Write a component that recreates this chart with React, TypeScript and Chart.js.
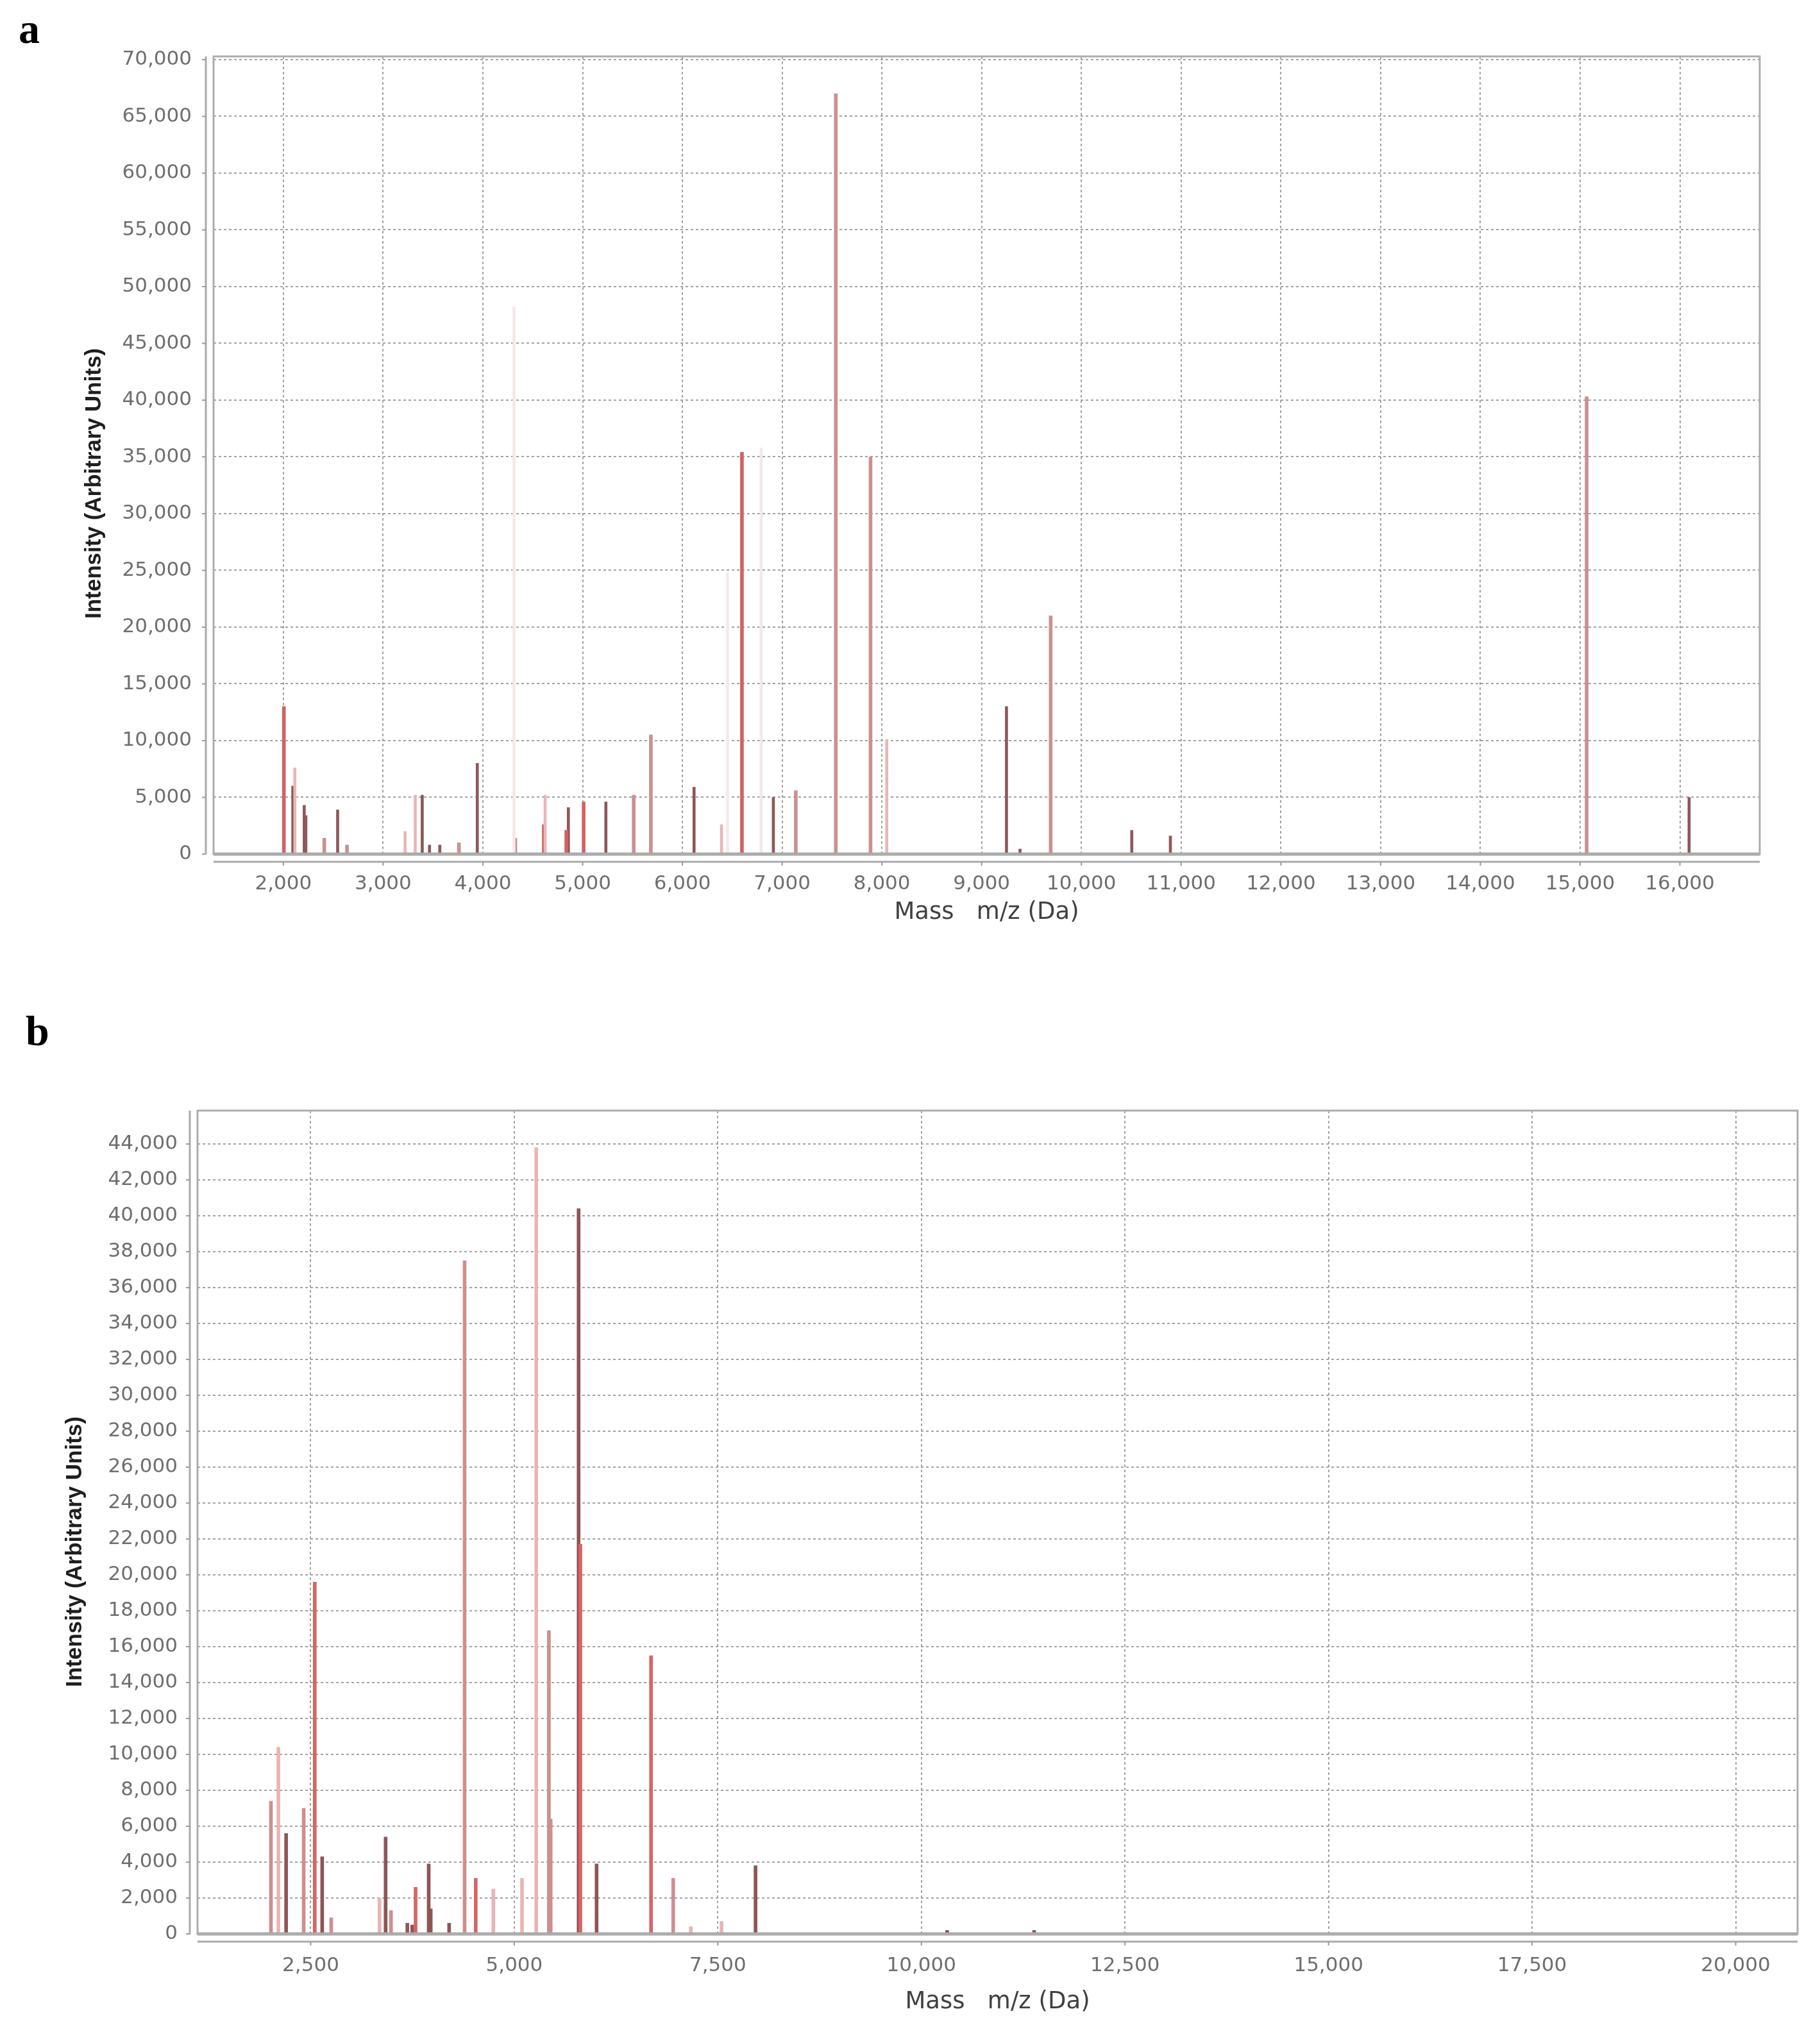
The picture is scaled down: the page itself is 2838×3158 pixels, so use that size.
import React, { useEffect, useRef } from 'react';
import { Chart, registerables } from 'chart.js';

Chart.register(...registerables);

// ---------- Panel a ----------
const xTicksA = [2000, 3000, 4000, 5000, 6000, 7000, 8000, 9000, 10000, 11000, 12000, 13000, 14000, 15000, 16000];
const yTicksA = [0, 5000, 10000, 15000, 20000, 25000, 30000, 35000, 40000, 45000, 50000, 55000, 60000, 65000, 70000];

const aRedMass = [2005, 4611, 4836, 5010, 6597];
const aRedInt = [13000, 2600, 2100, 4600, 35400];

const aMidMass = [2410, 2638, 3760, 4325, 5512, 5684, 7137, 7538, 7886, 9692, 15065];
const aMidInt = [1400, 800, 1000, 1400, 5200, 10500, 5600, 67000, 35000, 21000, 40300];

const aDarkMass = [2095, 2209, 2225, 2544, 3392, 3465, 3568, 3944, 4857, 5233, 6117, 6912, 9249, 9385, 10505, 10892, 16092];
const aDarkInt = [6000, 4300, 3400, 3900, 5200, 800, 800, 8000, 4100, 4600, 5900, 5000, 13000, 450, 2100, 1600, 5000];

const aLightMass = [2115, 3220, 3322, 4624, 6392, 8049];
const aLightInt = [7600, 2000, 5200, 5200, 2600, 10100];

const aFaintMass = [4312, 6453, 6789];
const aFaintInt = [48200, 24800, 35800];

// ---------- Panel b ----------
const xTicksB = [2500, 5000, 7500, 10000, 12500, 15000, 17500, 20000];
const yTicksB = [0, 2000, 4000, 6000, 8000, 10000, 12000, 14000, 16000, 18000, 20000, 22000, 24000, 26000, 28000, 30000, 32000, 34000, 36000, 38000, 40000, 42000, 44000];

const bLightMass = [2103, 3345, 4743, 5095, 5270, 7168, 7545];
const bLightInt = [10400, 2000, 2500, 3100, 43800, 400, 700];

const bMidMass = [2012, 2414, 2752, 3486, 4390, 5425, 5447, 6952];
const bMidInt = [7400, 7000, 900, 1300, 37500, 16900, 6400, 3100];

const bRedMass = [2550, 3788, 4527, 5812, 6680];
const bRedInt = [19600, 2600, 3100, 21700, 15500];

const bDarkMass = [2198, 2641, 3420, 3687, 3747, 3949, 3974, 4200, 5790, 6011, 7963, 10316, 11384];
const bDarkInt = [5600, 4300, 5400, 600, 500, 3900, 1400, 600, 40400, 3900, 3800, 200, 200];

type Series = { mass: number[]; intensity: number[]; color: string; width: number };

type PanelSpec = {
  width: number;
  height: number;
  plot: { left: number; top: number; right: number; bottom: number };
  xRange: [number, number];
  yRange: [number, number];
  xTicks: number[];
  yTicks: number[];
  series: Series[];
  yPad: number;
  xPad: number;
  xTitleDy: number;
  yTitleX: number;
  yTitleDy: number;
};

const fmt = (v: number) => Number(v).toLocaleString('en-US');

const decorPlugin = {
  id: 'decor',
  afterDatasetsDraw(chart: any, _args: any, opts: any) {
    const { ctx, chartArea: ca, scales } = chart;
    const xs = scales.x;
    const ys = scales.y;
    const off = opts.offset;
    ctx.save();
    // zero baseline band
    const y0 = ys.getPixelForValue(0);
    ctx.strokeStyle = '#a6a6a6';
    ctx.lineWidth = 5;
    ctx.beginPath();
    ctx.moveTo(ca.left, y0);
    ctx.lineTo(ca.right, y0);
    ctx.stroke();
    // plot outline
    ctx.strokeStyle = '#adadad';
    ctx.lineWidth = 3;
    ctx.strokeRect(ca.left, ca.top, ca.right - ca.left, ca.bottom - ca.top);
    // offset axis lines
    ctx.strokeStyle = '#a9a9a9';
    ctx.lineWidth = 3;
    ctx.beginPath();
    ctx.moveTo(ca.left - off, ca.top);
    ctx.lineTo(ca.left - off, ca.bottom);
    ctx.stroke();
    ctx.beginPath();
    ctx.moveTo(ca.left, ca.bottom + off);
    ctx.lineTo(ca.right, ca.bottom + off);
    ctx.stroke();
    // tick marks
    ctx.strokeStyle = '#9a9a9a';
    ctx.lineWidth = 2;
    xs.ticks.forEach((t: any) => {
      const px = xs.getPixelForValue(t.value);
      ctx.beginPath();
      ctx.moveTo(px, ca.bottom + off);
      ctx.lineTo(px, ca.bottom + off + 6);
      ctx.stroke();
    });
    ys.ticks.forEach((t: any) => {
      const py = ys.getPixelForValue(t.value);
      ctx.beginPath();
      ctx.moveTo(ca.left - off - 6, py);
      ctx.lineTo(ca.left - off, py);
      ctx.stroke();
    });
    ctx.restore();
  },
  afterDraw(chart: any, _args: any, opts: any) {
    const { ctx, chartArea: ca } = chart;
    ctx.save();
    // y title
    ctx.translate(opts.yTitleX, (ca.top + ca.bottom) / 2 + opts.yTitleDy);
    ctx.rotate(-Math.PI / 2);
    ctx.font = 'bold 35px "Liberation Sans", Arial, sans-serif';
    ctx.fillStyle = '#1e1e1e';
    ctx.textAlign = 'center';
    ctx.textBaseline = 'middle';
    ctx.fillText(opts.yTitle, 0, 0);
    ctx.restore();
    ctx.save();
    ctx.font = '37px "DejaVu Sans", sans-serif';
    ctx.fillStyle = '#404040';
    ctx.textAlign = 'center';
    ctx.textBaseline = 'middle';
    ctx.fillText(opts.xTitle, (ca.left + ca.right) / 2, ca.bottom + opts.xTitleDy);
    ctx.restore();
  },
};

function Panel({ spec, top }: { spec: PanelSpec; top: number }) {
  const ref = useRef<HTMLCanvasElement | null>(null);
  useEffect(() => {
    if (!ref.current) return;
    const Y_W = 150;
    const X_H = 80;
    const p = spec.plot;
    const chart = new Chart(ref.current, {
      type: 'bar',
      data: {
        datasets: spec.series.map((s, i) => ({
          label: 's' + i,
          data: s.mass.map((m, j) => ({ x: m, y: s.intensity[j] })),
          backgroundColor: s.color,
          borderWidth: 0,
          barThickness: s.width,
          grouped: false,
        })) as any,
      },
      options: {
        animation: false,
        responsive: false,
        devicePixelRatio: 1,
        layout: {
          padding: {
            left: p.left - Y_W,
            top: p.top,
            right: spec.width - p.right,
            bottom: spec.height - p.bottom - X_H,
          },
        },
        plugins: {
          legend: { display: false },
          tooltip: { enabled: false },
          decor: {
            offset: 12,
            xTitle: 'Mass   m/z (Da)',
            yTitle: 'Intensity (Arbitrary Units)',
            xTitleDy: spec.xTitleDy,
            yTitleX: spec.yTitleX,
            yTitleDy: spec.yTitleDy,
          },
        } as any,
        scales: {
          x: {
            type: 'linear',
            min: spec.xRange[0],
            max: spec.xRange[1],
            offset: false,
            afterFit: (s: any) => { s.height = X_H; },
            afterBuildTicks: (s: any) => { s.ticks = spec.xTicks.map((v) => ({ value: v })); },
            grid: { offset: false, color: '#a2a2a2', lineWidth: 2, drawTicks: false },
            border: { display: false, dash: [4, 4] },
            ticks: {
              autoSkip: false,
              maxRotation: 0,
              padding: spec.xPad,
              color: '#6e6e6e',
              font: { family: '"DejaVu Sans", sans-serif', size: 31 },
              callback: (v: any) => fmt(v),
            },
          },
          y: {
            type: 'linear',
            min: spec.yRange[0],
            max: spec.yRange[1],
            afterFit: (s: any) => { s.width = Y_W; },
            afterBuildTicks: (s: any) => { s.ticks = spec.yTicks.map((v) => ({ value: v })); },
            grid: { color: '#a2a2a2', lineWidth: 2, drawTicks: false },
            border: { display: false, dash: [4, 4] },
            ticks: {
              padding: spec.yPad,
              color: '#6e6e6e',
              font: { family: '"DejaVu Sans", sans-serif', size: 31 },
              callback: (v: any) => fmt(v),
            },
          },
        } as any,
      },
      plugins: [decorPlugin as any],
    });
    return () => chart.destroy();
  }, [spec]);
  return (
    <canvas
      ref={ref}
      width={spec.width}
      height={spec.height}
      style={{ position: 'absolute', left: 0, top, width: spec.width, height: spec.height }}
    />
  );
}

const specA: PanelSpec = {
  width: 2838,
  height: 1480,
  plot: { left: 333, top: 88, right: 2744, bottom: 1332 },
  xRange: [1300, 16800],
  yRange: [0, 70280],
  xTicks: xTicksA,
  yTicks: yTicksA,
  series: [
    { mass: aFaintMass, intensity: aFaintInt, color: '#f6e8e8', width: 4 },
    { mass: aLightMass, intensity: aLightInt, color: '#e8b6b6', width: 4 },
    { mass: aMidMass, intensity: aMidInt, color: '#c99191', width: 5 },
    { mass: aRedMass, intensity: aRedInt, color: '#d26262', width: 5 },
    { mass: aDarkMass, intensity: aDarkInt, color: '#8e5858', width: 4 },
  ],
  yPad: 34,
  xPad: 28,
  xTitleDy: 91,
  yTitleX: 147,
  yTitleDy: 44,
};

const specB: PanelSpec = {
  width: 2838,
  height: 1678,
  plot: { left: 308, top: 252, right: 2803, bottom: 1536 },
  xRange: [1110, 20760],
  yRange: [0, 45860],
  xTicks: xTicksB,
  yTicks: yTicksB,
  series: [
    { mass: bLightMass, intensity: bLightInt, color: '#eab4b4', width: 5 },
    { mass: bMidMass, intensity: bMidInt, color: '#cf8e8e', width: 5 },
    { mass: bRedMass, intensity: bRedInt, color: '#d96464', width: 5 },
    { mass: bDarkMass, intensity: bDarkInt, color: '#8e5555', width: 5 },
  ],
  yPad: 31,
  xPad: 31,
  xTitleDy: 106,
  yTitleX: 117,
  yTitleDy: 46,
};

const letterStyle: React.CSSProperties = {
  position: 'absolute',
  fontFamily: '"Liberation Serif", "Times New Roman", serif',
  fontWeight: 'bold',
  fontSize: 66,
  lineHeight: '66px',
  color: '#000',
  margin: 0,
};

export default function App() {
  return (
    <div style={{ position: 'absolute', left: 0, top: 0, width: 2838, height: 3158, background: '#fff', overflow: 'hidden' }}>
      <Panel spec={specA} top={0} />
      <Panel spec={specB} top={1480} />
      <div style={{ ...letterStyle, left: 29, top: 12 }}>a</div>
      <div style={{ ...letterStyle, left: 40, top: 1575 }}>b</div>
    </div>
  );
}
